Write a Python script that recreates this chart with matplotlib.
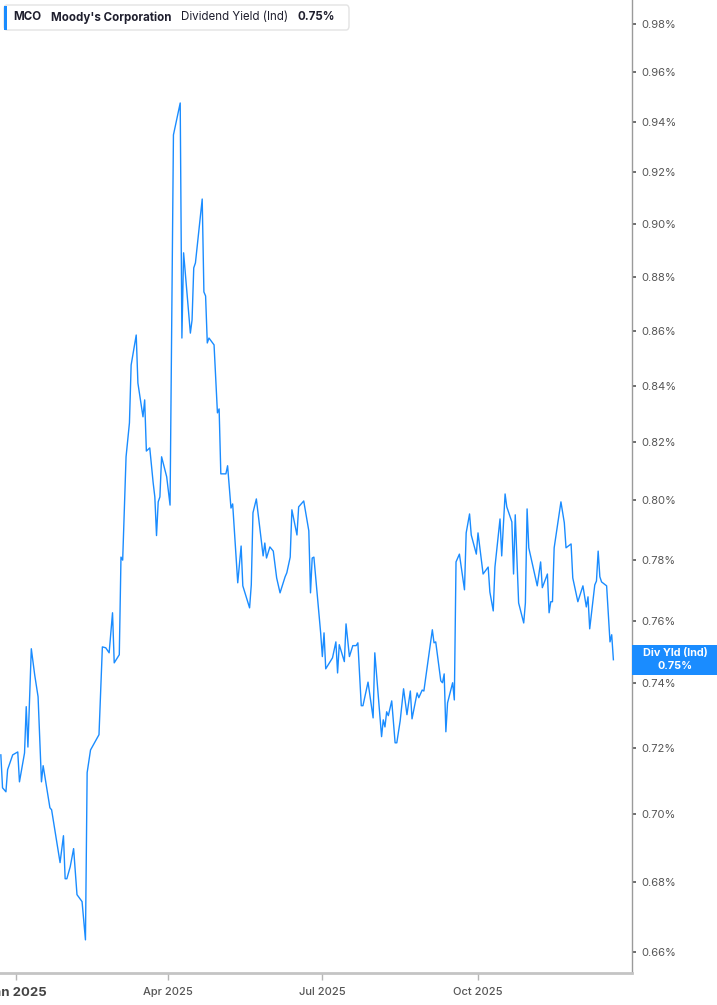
import pandas as pd
import matplotlib
matplotlib.use('Agg')
import matplotlib.pyplot as plt
from matplotlib.patches import Rectangle, FancyBboxPatch
from matplotlib.ticker import FixedLocator, NullLocator, FuncFormatter

plt.rcParams['font.family'] = ['Inter', 'DejaVu Sans']

# 1. data (dividend yield, %)
dates = [
    '2024-12-23', '2024-12-24', '2024-12-26', '2024-12-27', '2024-12-30', '2025-01-02', '2025-01-03', '2025-01-06', '2025-01-07', '2025-01-08',
    '2025-01-10', '2025-01-12', '2025-01-14', '2025-01-16', '2025-01-17', '2025-01-21', '2025-01-22', '2025-01-27', '2025-01-29', '2025-01-30',
    '2025-01-31', '2025-02-02', '2025-02-04', '2025-02-06', '2025-02-09', '2025-02-11', '2025-02-12', '2025-02-14', '2025-02-19', '2025-02-21',
    '2025-02-23', '2025-02-25', '2025-02-27', '2025-02-28', '2025-03-03', '2025-03-04', '2025-03-05', '2025-03-07', '2025-03-09', '2025-03-10',
    '2025-03-13', '2025-03-14', '2025-03-17', '2025-03-18', '2025-03-19', '2025-03-21', '2025-03-23', '2025-03-24', '2025-03-25', '2025-03-26',
    '2025-03-27', '2025-03-28', '2025-03-31', '2025-04-02', '2025-04-04', '2025-04-08', '2025-04-09', '2025-04-10', '2025-04-14', '2025-04-15',
    '2025-04-16', '2025-04-17', '2025-04-21', '2025-04-22', '2025-04-23', '2025-04-24', '2025-04-25', '2025-04-28', '2025-04-30', '2025-05-01',
    '2025-05-02', '2025-05-05', '2025-05-06', '2025-05-08', '2025-05-09', '2025-05-12', '2025-05-14', '2025-05-15', '2025-05-19', '2025-05-20',
    '2025-05-21', '2025-05-23', '2025-05-27', '2025-05-28', '2025-05-29', '2025-05-31', '2025-06-02', '2025-06-04', '2025-06-06', '2025-06-09',
    '2025-06-10', '2025-06-12', '2025-06-13', '2025-06-16', '2025-06-17', '2025-06-20', '2025-06-23', '2025-06-24', '2025-06-25', '2025-06-26',
    '2025-06-30', '2025-07-01', '2025-07-02', '2025-07-03', '2025-07-07', '2025-07-09', '2025-07-10', '2025-07-11', '2025-07-14', '2025-07-15',
    '2025-07-17', '2025-07-19', '2025-07-21', '2025-07-22', '2025-07-24', '2025-07-25', '2025-07-28', '2025-07-31', '2025-08-01', '2025-08-05',
    '2025-08-06', '2025-08-07', '2025-08-08', '2025-08-09', '2025-08-11', '2025-08-13', '2025-08-14', '2025-08-16', '2025-08-18', '2025-08-20',
    '2025-08-22', '2025-08-23', '2025-08-26', '2025-08-27', '2025-08-29', '2025-08-30', '2025-09-04', '2025-09-05', '2025-09-06', '2025-09-09',
    '2025-09-10', '2025-09-11', '2025-09-12', '2025-09-13', '2025-09-16', '2025-09-17', '2025-09-18', '2025-09-20', '2025-09-23', '2025-09-24',
    '2025-09-26', '2025-09-27', '2025-09-30', '2025-10-01', '2025-10-04', '2025-10-07', '2025-10-08', '2025-10-10', '2025-10-11', '2025-10-14',
    '2025-10-15', '2025-10-17', '2025-10-18', '2025-10-21', '2025-10-22', '2025-10-23', '2025-10-25', '2025-10-28', '2025-10-29', '2025-10-30',
    '2025-10-31', '2025-11-05', '2025-11-07', '2025-11-08', '2025-11-11', '2025-11-12', '2025-11-13', '2025-11-14', '2025-11-15', '2025-11-19',
    '2025-11-21', '2025-11-22', '2025-11-25', '2025-11-26', '2025-11-29', '2025-12-02', '2025-12-04', '2025-12-05', '2025-12-06', '2025-12-09',
    '2025-12-10', '2025-12-11', '2025-12-12', '2025-12-13', '2025-12-16', '2025-12-18', '2025-12-19', '2025-12-20',
]
div_yield = [
    0.7178, 0.7078, 0.7066, 0.7133, 0.7178, 0.7187, 0.7096, 0.7184, 0.7327, 0.7202,
    0.7510, 0.7427, 0.7358, 0.7096, 0.7145, 0.7018, 0.7012, 0.6856, 0.6935, 0.6809,
    0.6809, 0.6844, 0.6897, 0.6763, 0.6743, 0.6634, 0.7124, 0.7193, 0.7240, 0.7516,
    0.7513, 0.7497, 0.7626, 0.7465, 0.7491, 0.7809, 0.7799, 0.8150, 0.8269, 0.8475,
    0.8584, 0.8410, 0.8290, 0.8350, 0.8170, 0.8181, 0.8061, 0.8012, 0.7881, 0.7995,
    0.8012, 0.8150, 0.8081, 0.7984, 0.9348, 0.9476, 0.8573, 0.8890, 0.8591, 0.8639,
    0.8833, 0.8852, 0.9096, 0.8743, 0.8728, 0.8555, 0.8573, 0.8548, 0.8304, 0.8318,
    0.8091, 0.8091, 0.8119, 0.7974, 0.7988, 0.7724, 0.7846, 0.7714, 0.7642, 0.7717,
    0.7958, 0.8005, 0.7813, 0.7856, 0.7806, 0.7843, 0.7829, 0.7740, 0.7691, 0.7744,
    0.7757, 0.7809, 0.7968, 0.7883, 0.7978, 0.7998, 0.7897, 0.7691, 0.7806, 0.7809,
    0.7561, 0.7485, 0.7561, 0.7446, 0.7481, 0.7532, 0.7433, 0.7523, 0.7469, 0.7590,
    0.7485, 0.7520, 0.7520, 0.7529, 0.7330, 0.7330, 0.7404, 0.7292, 0.7497, 0.7234,
    0.7286, 0.7264, 0.7311, 0.7299, 0.7345, 0.7215, 0.7215, 0.7283, 0.7383, 0.7302,
    0.7376, 0.7289, 0.7370, 0.7355, 0.7379, 0.7376, 0.7571, 0.7529, 0.7532, 0.7408,
    0.7402, 0.7430, 0.7249, 0.7339, 0.7402, 0.7348, 0.7793, 0.7819, 0.7701, 0.7890,
    0.7954, 0.7883, 0.7819, 0.7890, 0.7753, 0.7776, 0.7694, 0.7632, 0.7776, 0.7937,
    0.7813, 0.8022, 0.7978, 0.7927, 0.7753, 0.7951, 0.7658, 0.7593, 0.7658, 0.7971,
    0.7840, 0.7714, 0.7793, 0.7708, 0.7753, 0.7626, 0.7662, 0.7662, 0.7840, 0.7995,
    0.7924, 0.7840, 0.7853, 0.7740, 0.7662, 0.7714, 0.7645, 0.7678, 0.7574, 0.7717,
    0.7730, 0.7829, 0.7744, 0.7727, 0.7714, 0.7532, 0.7555, 0.7475,
]
y_ticks = [0.66, 0.68, 0.70, 0.72, 0.74, 0.76, 0.78, 0.80, 0.82, 0.84, 0.86, 0.88, 0.90, 0.92, 0.94, 0.96, 0.98]
x_ticks = ['2025-01-01', '2025-04-01', '2025-07-01', '2025-10-01']
x_labels = ['Jan 2025', 'Apr 2025', 'Jul 2025', 'Oct 2025']

df = pd.DataFrame({'date': pd.to_datetime(dates), 'yield': div_yield})

W, H = 717, 1005
BLUE = '#1a8cff'

# 2. figure / axes (plot area ends at x=632, bottom spine at y=973)
fig = plt.figure(figsize=(W / 100, H / 100), dpi=100)
ax = fig.add_axes([0, 1 - 973 / H, 632 / W, 973 / H])

ax.plot(df['date'], df['yield'], color=BLUE, lw=1.0)

ax.set_yscale('log')
ax.set_ylim(0.6541, 0.9901)
ax.set_xlim(pd.Timestamp('2024-12-22 12:00'), pd.Timestamp('2025-12-31'))

ax.yaxis.set_major_locator(FixedLocator(y_ticks))
ax.yaxis.set_minor_locator(NullLocator())
ax.yaxis.set_major_formatter(FuncFormatter(lambda v, p: f'{v:.2f}%'))
ax.yaxis.tick_right()
ax.tick_params(axis='y', direction='out', length=3, width=1.2, color='#555555',
               labelcolor='#555555', labelsize=8, pad=4)

ax.set_xticks(pd.to_datetime(x_ticks))
ax.set_xticklabels(x_labels)
ax.xaxis.set_minor_locator(NullLocator())
ax.tick_params(axis='x', direction='out', length=5, width=1, color='#b5b5b5',
               labelcolor='#555555', labelsize=8, pad=5)
first = ax.get_xticklabels()[0]
first.set_fontweight('bold')
first.set_fontsize(9.5)
first.set_color('#444444')
for lab in ax.get_xticklabels()[1:]:
    lab.set_fontweight('medium')

for s in ['top', 'left']:
    ax.spines[s].set_visible(False)
ax.spines['bottom'].set_color('#c4c4c4')
ax.spines['bottom'].set_linewidth(2)
ax.spines['right'].set_color('#9a9a9a')
ax.spines['right'].set_linewidth(1)


# 3. header box at top-left (pixel coords -> figure fraction)
def fx(x):
    return x / W


def fy(y):
    return 1 - y / H


box = FancyBboxPatch((fx(4), fy(30)), fx(345), 25 / H, boxstyle='round,pad=0,rounding_size=0.004',
                     transform=fig.transFigure, fc='white', ec='#e3e3e3', lw=1)
fig.patches.append(box)
fig.patches.append(Rectangle((fx(4), fy(30)), fx(3), 24 / H, transform=fig.transFigure,
                             fc=BLUE, ec='none'))
head = [('MCO', 13, 'bold'), ("Moody's Corporation", 51, 'bold'),
        ('Dividend Yield (Ind)', 181, 'normal'), ('0.75%', 298, 'bold')]
for txt, x, wt in head:
    fig.text(fx(x), fy(17.5), txt, fontsize=8.3, fontweight=wt, color='#1f1f2e',
             ha='left', va='center')

# 4. last value tag on the right axis
fig.canvas.draw()
yc = ax.transData.transform((0, div_yield[-1]))[1]
fig.patches.append(Rectangle((fx(632), (yc - 15) / H), fx(W - 632), 30 / H,
                             transform=fig.transFigure, fc=BLUE, ec='none'))
fig.text(fx(675), (yc + 6.5) / H, 'Div Yld (Ind)', fontsize=7.8, fontweight='bold',
         color='white', ha='center', va='center')
fig.text(fx(675), (yc - 6.5) / H, f'{div_yield[-1]:.2f}%', fontsize=7.8, fontweight='bold',
         color='white', ha='center', va='center')

fig.savefig('out.png', dpi=100)
